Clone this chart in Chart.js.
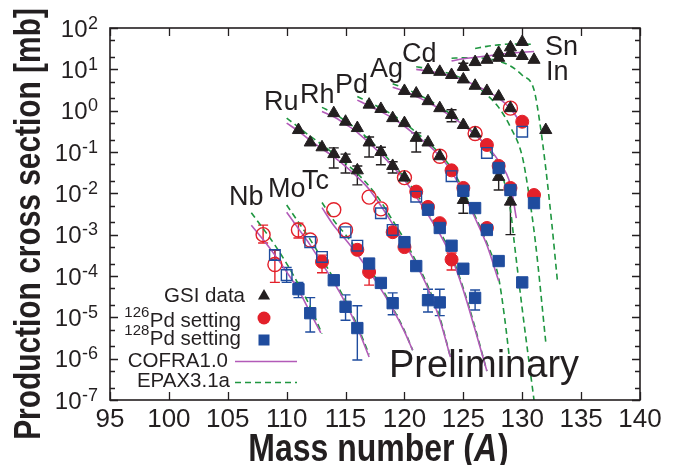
<!DOCTYPE html>
<html><head><meta charset="utf-8">
<script src="https://cdn.jsdelivr.net/npm/chart.js@4.4.1/dist/chart.umd.min.js"></script>
<style>html,body{margin:0;padding:0;background:#fff;overflow:hidden}</style>
</head><body>
<canvas id="c" width="675" height="465"></canvas>
<script>
const FONT = "'Liberation Sans', Arial, Helvetica, sans-serif";
const INK = '#231f20', RED = '#e3202a', BLUE = '#1f4c9e', MAG = '#b25ab8', GRN = '#1f9640';

// ---- axes / tick labels ----
const massMin = 95, massMax = 140, massStep = 5;
const yTickValues = [1e2, 1e1, 1e0, 1e-1, 1e-2, 1e-3, 1e-4, 1e-5, 1e-6, 1e-7];
const yTickExp = ['2', '1', '0', '-1', '-2', '-3', '-4', '-5', '-6', '-7'];
const yMinorMantissa = [2, 5];

// ---- GSI data (triangles) [A, mb] ----
const gsiData = [
  [111,0.34],[112,0.17],[113,0.13],[114,0.089],[115,0.068],[116,0.036],
  [114,0.87],[115,0.54],[116,0.38],[117,0.17],[118,0.10],[119,0.046],[120,0.024],
  [117,1.4],[118,1.1],[119,0.66],[120,0.50],[121,0.22],[122,0.17],[123,0.079],[125,0.0069],
  [120,3.0],[121,2.6],[122,1.7],[123,1.15],[124,0.79],[125,0.45],[126,0.28],[128,0.025],[129,0.0063],
  [122,9.6],[123,8.7],[124,7.3],[125,5.7],[126,4.0],[127,3.0],[128,2.2],[129,1.15],
  [125,11.5],[126,15],[127,17],[128,19],[129,25],[130,21],[131,17],[132,0.34],
  [128,25],[129,34],[130,46]
];
const gsiErr = [
  [114,0.041,0.126],[115,0.031,0.089],[116,0.016,0.046],[117,0.076,0.23],[118,0.049,0.13],
  [119,0.031,0.058],[121,0.10,0.29],[124,0.54,1.05],[125,0.0033,0.012],[128,0.012,0.035],
  [129,0.001,0.009],[125,9.5,14]
];

// ---- 126Pd setting (red filled circles) ----
const pd126Data = [
  [113,2.2e-4],[116,4.3e-4],[117,1.25e-4],[119,1.15e-3],[120,5.0e-4],[121,0.011],[122,4.7e-3],
  [123,1.9e-3],[124,2.5e-4],[124,0.036],[125,0.0135],[127,1.45e-3],[127,0.148],[128,0.046],
  [129,0.0135],[130,0.54],[131,9.1e-3]
];
const pd126Err = [[113,1.2e-4,3.2e-4],[117,6.0e-5,1.7e-4],[124,1.4e-4,3.6e-4]];

// ---- 128Pd setting (blue filled squares) ----
const pd128Data = [
  [111,4.8e-5],[112,1.26e-5],[114,7.9e-5],[115,1.8e-5],[116,5.5e-6],[117,2.0e-4],[118,6.8e-5],
  [119,2.2e-5],[120,6.6e-4],[121,1.74e-4],[122,2.6e-5],[123,2.3e-5],[122,4.0e-3],[123,1.45e-3],
  [124,5.4e-4],[125,1.5e-4],[126,2.95e-5],[125,0.0115],[126,4.4e-3],[127,1.3e-3],[128,2.3e-4],
  [128,0.041],[129,0.012],[130,7.0e-5],[131,5.8e-3]
];
const pd128Err = [
  [111,3.0e-5,7.0e-5],[112,4.4e-6,3.0e-5],[115,8.5e-6,3.5e-5],[116,9.3e-7,1.9e-5],
  [119,1.15e-5,3.9e-5],[122,1.35e-5,4.8e-5],[123,1.1e-5,4.8e-5],[126,1.5e-5,4.6e-5]
];

// ---- open symbols ----
const openCircleData = [
  [108,1.0e-3],[109,1.9e-4],[111,1.3e-3],[112,7.4e-4],[114,4.0e-3],[115,1.3e-3],
  [117,8.1e-3],[118,4.2e-3],[120,0.024],[123,0.079],[126,0.28],[129,1.15]
];
const openCircleErr = [[108,6.3e-4,1.7e-3],[109,7.0e-5,4.3e-4],[111,8.3e-4,1.9e-3]];
const openSquareData = [
  [109,3.2e-4],[110,1.05e-4],[112,6.6e-4],[113,2.9e-4],[115,1.15e-3],[116,5.4e-4],
  [118,3.3e-3],[119,1.3e-3],[121,8.3e-3],[124,0.026],[127,0.095],[130,0.31]
];
const openSquareErr = [[109,2.5e-4,4.2e-4],[110,7.0e-5,1.6e-4]];

// ---- COFRA1.0 ----
const cofraNb = [[107,1.7e-3],[108,7.6e-4],[109,3.2e-4],[110,1.26e-4],[111,4.6e-5],[112,1.3e-5],[112.9,4.2e-6]];
const cofraMo = [[110,3.5e-3],[111,1.4e-3],[112,5.6e-4],[113,2.0e-4],[114,7.1e-5],[115,2.2e-5],[116,5.6e-6],[117,1.1e-6]];
const cofraTc = [[113,4.5e-3],[114,1.66e-3],[115,7.6e-4],[116,3.3e-4],[117,1.3e-4],[118,4.8e-5],[119,1.6e-5],[120,4.5e-6],[120.7,1.6e-6]];
const cofraRu = [[110,0.5],[111,0.32],[112,0.19],[113,0.12],[114,0.076],[115,0.045],[116,0.025],[117,0.0126],[118,5.0e-3],[119,1.8e-3],[120,6.3e-4],[121,1.9e-4],[122,5.0e-5],[123,8.9e-6],[123.9,1.1e-6]];
const cofraRh = [[113,0.95],[114,0.71],[115,0.47],[116,0.30],[117,0.166],[118,0.089],[119,0.045],[120,0.021],[121,8.3e-3],[122,3.0e-3],[123,1.05e-3],[124,2.8e-4],[125,4.5e-5],[126,5.0e-6],[127,5.0e-7]];
const cofraPd = [[116,1.8],[117,1.3],[118,0.95],[119,0.66],[120,0.42],[121,0.25],[122,0.15],[123,0.079],[124,0.034],[125,0.010],[126,2.5e-3],[127,5.6e-4],[128,7.6e-5]];
const cofraAg = [[119,3.7],[120,2.95],[121,2.2],[122,1.6],[123,1.1],[124,0.72],[125,0.45],[126,0.26],[127,0.14],[128,0.06],[129,0.016],[129.5,2.5e-3]];
const cofraCd = [[121,10],[122,9.1],[123,8.1],[124,6.9],[125,5.5],[126,4.1],[127,2.95],[128,2.0],[129,1.12],[130,0.45]];
const cofraIn = [[124,16],[125,18],[126,19.5],[127,21],[128,23],[129,24.5],[130,26],[131,27]];

// ---- EPAX3.1a ----
const epaxNb = [[107,3.4e-3],[108,1.4e-3],[109,5.6e-4],[110,2.0e-4],[111,6.3e-5],[112,1.8e-5],[113,4.0e-6]];
const epaxMo = [[110,5.2e-3],[111,2.0e-3],[112,7.6e-4],[113,2.6e-4],[114,8.5e-5],[115,2.5e-5],[116,6.3e-6],[117,1.26e-6]];
const epaxTc = [[113,6.0e-3],[114,2.2e-3],[115,1.0e-3],[116,4.2e-4],[117,1.6e-4],[118,5.5e-5],[119,1.7e-5],[120,4.8e-6],[120.7,1.6e-6]];
const epaxRu = [[110,0.66],[111,0.40],[112,0.24],[113,0.15],[114,0.091],[115,0.054],[116,0.030],[117,0.015],[118,6.3e-3],[119,2.2e-3],[120,7.6e-4],[121,2.2e-4],[122,5.6e-5],[123,1.0e-5],[123.9,1.1e-6]];
const epaxRh = [[113,1.2],[114,0.87],[115,0.56],[116,0.35],[117,0.20],[118,0.105],[119,0.052],[120,0.024],[121,0.010],[122,3.5e-3],[123,1.2e-3],[124,3.2e-4],[125,5.0e-5],[126,5.6e-6],[127,5.0e-7]];
const epaxPd = [[116,2.2],[117,1.6],[118,1.15],[119,0.79],[120,0.50],[121,0.30],[122,0.17],[123,0.091],[124,0.040],[125,0.0117],[126,2.8e-3],[127,6.3e-4],[128,8.9e-5],[128.5,1.0e-5],[129,6.3e-7]];
const epaxAg = [[119,4.5],[120,3.5],[121,2.6],[122,1.86],[123,1.26],[124,0.79],[125,0.48],[126,0.27],[127,0.13],[128,0.045],[129,4.0e-3],[129.3,7.4e-4],[130,1.6e-5],[131,1.0e-7]];
const epaxCd = [[121,11.5],[122,10.5],[123,9.1],[124,7.6],[125,5.8],[126,4.0],[127,2.4],[128,1.2],[129,0.4],[130,0.079],[130.5,0.0126],[131.1,7.4e-4],[132,2.5e-6]];
const epaxIn = [[124,18.6],[125,19],[126,19],[127,18.2],[128,15.8],[129,12],[130,7.2],[131,3.2],[131.5,0.5],[132,0.04],[132.5,2.0e-3],[133,7.0e-5]];
const epaxSn = [[126,32],[127,36],[128,39],[129,41],[130,41],[131,40]];

const cofraCurves = [cofraNb, cofraMo, cofraTc, cofraRu, cofraRh, cofraPd, cofraAg, cofraCd, cofraIn];
const epaxCurves = [epaxNb, epaxMo, epaxTc, epaxRu, epaxRh, epaxPd, epaxAg, epaxCd, epaxIn, epaxSn];

const elementNames = ['Nb','Mo','Tc','Ru','Rh','Pd','Ag','Cd','Sn','In'];
// label anchor (left x, baseline y) in px
const elementPos = [[229,205],[268,197],[302,189],[264,110],[300,103],[335,93],[370,77],[402,62],[545,55],[546,80]];

const pts = arr => arr.map(([a, v]) => ({x: a, y: v}));

function markerSet(label, data, style, r, fill, stroke, bw) {
  return { label, data: pts(data), showLine: false, pointStyle: style,
    pointRadius: r, pointHoverRadius: r, backgroundColor: fill, borderColor: stroke,
    pointBackgroundColor: fill, pointBorderColor: stroke, pointBorderWidth: bw, borderWidth: bw };
}
function curveSet(label, data, color, dash) {
  return { label, data: pts(data), showLine: true, pointRadius: 0, pointHoverRadius: 0,
    borderColor: color, backgroundColor: color, borderWidth: 1.6, borderDash: dash, fill: false,
    cubicInterpolationMode: 'monotone' };
}

const datasets = [
  markerSet('128Pd setting', pd128Data, 'rect', 8, BLUE, BLUE, 1),
  markerSet('open squares', openSquareData, 'rect', 7.5, 'rgba(0,0,0,0)', BLUE, 1.4),
  markerSet('GSI data', gsiData, 'triangle', 7, INK, INK, 1),
  markerSet('126Pd setting', pd126Data, 'circle', 6.5, RED, RED, 1),
  markerSet('open circles', openCircleData, 'circle', 7, 'rgba(0,0,0,0)', RED, 1.4),
  ...cofraCurves.map((c, i) => curveSet('COFRA1.0 ' + i, c, MAG, [])),
  ...epaxCurves.map((c, i) => curveSet('EPAX3.1a ' + i, c, GRN, [6, 4]))
];

const errGroups = [[pd128Err, BLUE], [openSquareErr, BLUE], [gsiErr, INK], [pd126Err, RED], [openCircleErr, RED]];

function tri(ctx, x, y, r) {
  ctx.beginPath(); ctx.moveTo(x, y - r); ctx.lineTo(x + 0.866 * r, y + 0.5 * r); ctx.lineTo(x - 0.866 * r, y + 0.5 * r); ctx.closePath(); ctx.fill();
}

const deco = {
  id: 'deco',
  beforeDatasetsDraw(chart) {
    const {ctx, chartArea: ca, scales: {x, y}} = chart;
    ctx.save();
    ctx.beginPath(); ctx.rect(ca.left, ca.top, ca.right - ca.left, ca.bottom - ca.top); ctx.clip();
    ctx.lineWidth = 1.4;
    errGroups.forEach(([arr, col]) => {
      ctx.strokeStyle = col;
      arr.forEach(([a, lo, hi]) => {
        const px = x.getPixelForValue(a), p1 = y.getPixelForValue(lo), p2 = y.getPixelForValue(hi);
        ctx.beginPath();
        ctx.moveTo(px, p1); ctx.lineTo(px, p2);
        ctx.moveTo(px - 5, p1); ctx.lineTo(px + 5, p1);
        ctx.moveTo(px - 5, p2); ctx.lineTo(px + 5, p2);
        ctx.stroke();
      });
    });
    ctx.restore();
  },
  afterDatasetsDraw(chart) {
    const {ctx, chartArea: ca, scales: {x, y}} = chart;
    ctx.save();
    // frame
    ctx.strokeStyle = INK; ctx.lineWidth = 1.6;
    ctx.strokeRect(ca.left, ca.top, ca.right - ca.left, ca.bottom - ca.top);
    // x ticks (inward, top & bottom)
    ctx.lineWidth = 1.3;
    ctx.beginPath();
    for (let a = massMin; a <= massMax; a += massStep) {
      const px = Math.round(x.getPixelForValue(a)) + 0.5;
      ctx.moveTo(px, ca.bottom); ctx.lineTo(px, ca.bottom - 8);
      ctx.moveTo(px, ca.top); ctx.lineTo(px, ca.top + 8);
    }
    // y ticks major & minor (inward, left & right)
    yTickValues.forEach(v => {
      const py = Math.round(y.getPixelForValue(v)) + 0.5;
      ctx.moveTo(ca.left, py); ctx.lineTo(ca.left + 8, py);
      ctx.moveTo(ca.right, py); ctx.lineTo(ca.right - 8, py);
    });
    yTickValues.slice(1).forEach(v => {
      yMinorMantissa.forEach(m => {
        const py = Math.round(y.getPixelForValue(v * m)) + 0.5;
        ctx.moveTo(ca.left, py); ctx.lineTo(ca.left + 5, py);
        ctx.moveTo(ca.right, py); ctx.lineTo(ca.right - 5, py);
      });
    });
    ctx.stroke();

    // y tick labels with superscripts
    ctx.fillStyle = INK; ctx.textBaseline = 'alphabetic'; ctx.textAlign = 'right';
    yTickValues.forEach((v, i) => {
      const ty = y.getPixelForValue(v);
      ctx.font = '18px ' + FONT;
      const ew = ctx.measureText(yTickExp[i]).width;
      ctx.fillText(yTickExp[i], 98, ty + 0.5);
      ctx.font = '24px ' + FONT;
      ctx.fillText('10', 98 - ew - 0.5, ty + 8.6);
    });

    // y title (condensed bold)
    ctx.save();
    ctx.translate(40, 224); ctx.rotate(-Math.PI / 2); ctx.scale(0.83, 1);
    ctx.font = 'bold 36px ' + FONT; ctx.textAlign = 'center';
    ctx.fillText('Production cross section [mb]', 0, 0);
    ctx.restore();

    // x title
    ctx.save();
    ctx.translate(378, 461); ctx.scale(0.82, 1);
    ctx.textAlign = 'left';
    const p1 = 'Mass number (', p2 = 'A', p3 = ')';
    ctx.font = 'bold 39px ' + FONT; const w1 = ctx.measureText(p1).width, w3 = ctx.measureText(p3).width;
    ctx.font = 'italic bold 39px ' + FONT; const w2 = ctx.measureText(p2).width;
    let sx = -(w1 + w2 + w3) / 2;
    ctx.font = 'bold 39px ' + FONT; ctx.fillText(p1, sx, 0); sx += w1;
    ctx.font = 'italic bold 39px ' + FONT; ctx.fillText(p2, sx, 0); sx += w2 + 1;
    ctx.font = 'bold 39px ' + FONT; ctx.fillText(p3, sx, 0);
    ctx.restore();

    // element labels
    ctx.font = '27px ' + FONT; ctx.textAlign = 'left';
    elementNames.forEach((n, i) => ctx.fillText(n, elementPos[i][0], elementPos[i][1]));

    // Preliminary
    ctx.font = '38px ' + FONT;
    ctx.fillText('Preliminary', 389, 377);

    // legend
    ctx.font = '20.5px ' + FONT; ctx.textAlign = 'right';
    ctx.fillText('GSI data', 245, 302);
    ctx.fillText('Pd setting', 241, 327);
    ctx.fillText('Pd setting', 241, 345);
    ctx.fillText('COFRA1.0', 228, 367);
    ctx.fillText('EPAX3.1a', 230, 387);
    ctx.font = '20.5px ' + FONT;
    const pdw = ctx.measureText('Pd setting').width;
    ctx.font = '15px ' + FONT;
    ctx.fillText('126', 241 - pdw - 0.5, 317);
    ctx.fillText('128', 241 - pdw - 0.5, 335);
    // legend symbols
    ctx.fillStyle = INK; tri(ctx, 264, 296, 7);
    ctx.fillStyle = RED; ctx.beginPath(); ctx.arc(264, 318, 6.5, 0, Math.PI * 2); ctx.fill();
    ctx.fillStyle = BLUE; ctx.fillRect(258.5, 334.5, 11, 11);
    ctx.lineWidth = 1.6;
    ctx.strokeStyle = MAG; ctx.setLineDash([]);
    ctx.beginPath(); ctx.moveTo(235, 361.5); ctx.lineTo(297, 361.5); ctx.stroke();
    ctx.strokeStyle = GRN; ctx.setLineDash([6, 4]);
    ctx.beginPath(); ctx.moveTo(235, 382.5); ctx.lineTo(297, 382.5); ctx.stroke();
    ctx.restore();
  }
};

new Chart(document.getElementById('c'), {
  type: 'scatter',
  data: { datasets },
  options: {
    responsive: false, animation: false, devicePixelRatio: 1, events: [],
    layout: { padding: { left: 0, right: 35, top: 28, bottom: 0 } },
    plugins: { legend: { display: false }, tooltip: { enabled: false } },
    scales: {
      x: {
        type: 'linear', min: massMin, max: massMax,
        grid: { display: false, drawTicks: false }, border: { display: false },
        ticks: { stepSize: massStep, autoSkip: false, maxRotation: 0, padding: 4, color: INK,
          font: { family: FONT, size: 26, lineHeight: 1.2 } },
        afterFit: s => { s.height = 65; }
      },
      y: {
        type: 'logarithmic', min: 1e-7, max: 1e2,
        grid: { display: false, drawTicks: false }, border: { display: false },
        ticks: { display: false },
        afterFit: s => { s.width = 110; }
      }
    }
  },
  plugins: [deco]
});
</script>
</body></html>
